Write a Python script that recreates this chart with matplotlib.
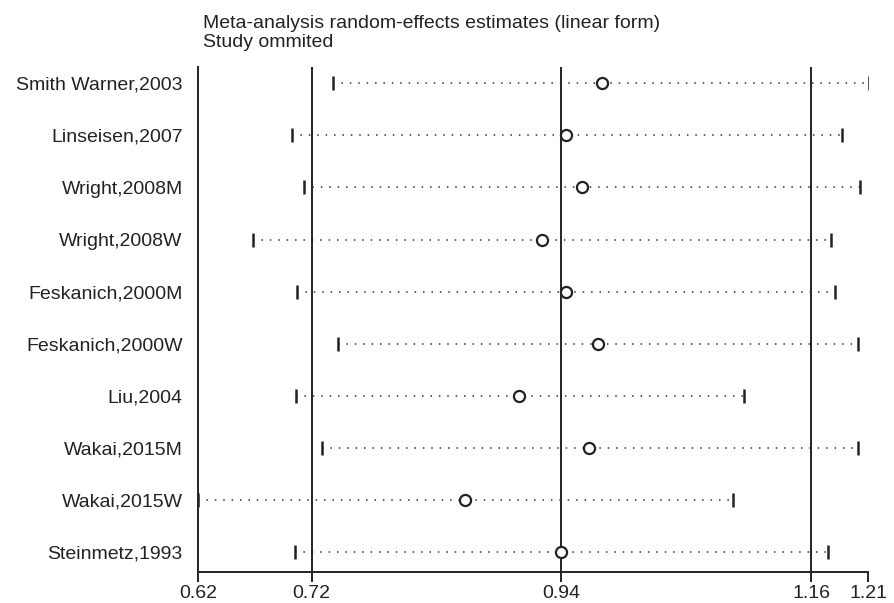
import numpy as np
import matplotlib.pyplot as plt

plt.rcParams['font.family'] = ['Liberation Sans', 'DejaVu Sans']

# studies omitted one at a time, with the pooled estimate and 95% CI of the rest
studies = ['Smith Warner,2003', 'Linseisen,2007', 'Wright,2008M', 'Wright,2008W',
           'Feskanich,2000M', 'Feskanich,2000W', 'Liu,2004', 'Wakai,2015M',
           'Wakai,2015W', 'Steinmetz,1993']
est = [0.976, 0.944, 0.958, 0.923, 0.944, 0.972, 0.903, 0.964, 0.855, 0.940]
lower = [0.739, 0.703, 0.713, 0.668, 0.707, 0.743, 0.706, 0.729, 0.620, 0.705]
upper = [1.211, 1.187, 1.203, 1.177, 1.181, 1.201, 1.101, 1.201, 1.091, 1.175]

# overall estimate and its confidence limits
ref_lines = [0.72, 0.94, 1.16]
xticks = [0.62, 0.72, 0.94, 1.16, 1.21]
xticklabels = ['0.62', '0.72', '0.94', '1.16', '1.21']

fig = plt.figure(figsize=(8.94, 6.03), dpi=100)
ax = fig.add_axes([0.2215, 0.0514, 0.7495, 0.8375])

y = np.arange(len(studies))

for v in ref_lines:
    ax.axvline(v, color='#222222', lw=1.4, zorder=1)

for yi, lo, hi in zip(y, lower, upper):
    ax.plot([lo, hi], [yi, yi], color='#333333', lw=1.1,
            linestyle=(0, (1, 4.5)), zorder=2)

ax.plot(lower, y, linestyle='none', marker='|', ms=10, mew=1.8, color='#222222', zorder=3)
ax.plot(upper, y, linestyle='none', marker='|', ms=10, mew=1.8, color='#222222', zorder=3)
ax.plot(est, y, linestyle='none', marker='o', ms=8, mew=1.6,
        mfc='white', mec='#222222', zorder=4)

ax.set_xlim(0.62, 1.21)
ax.set_ylim(9.38, -0.31)
ax.set_xticks(xticks)
ax.set_xticklabels(xticklabels, fontsize=14, color='#222222')
ax.set_yticks(y)
ax.set_yticklabels(studies, fontsize=14, color='#222222')
ax.tick_params(axis='y', length=0, pad=11)
ax.tick_params(axis='x', length=7.5, width=1.4, pad=2, color='#222222')

for s in ['top', 'right']:
    ax.spines[s].set_visible(False)
for s in ['left', 'bottom']:
    ax.spines[s].set_linewidth(1.4)
    ax.spines[s].set_color('#222222')

fig.text(0.227, 1 - 28 / 603, 'Meta-analysis random-effects estimates (linear form)',
         fontsize=14, va='baseline', ha='left', color='#222222')
fig.text(0.227, 1 - 47 / 603, 'Study ommited', fontsize=14,
         va='baseline', ha='left', color='#222222')

plt.savefig('out.png', dpi=100)
